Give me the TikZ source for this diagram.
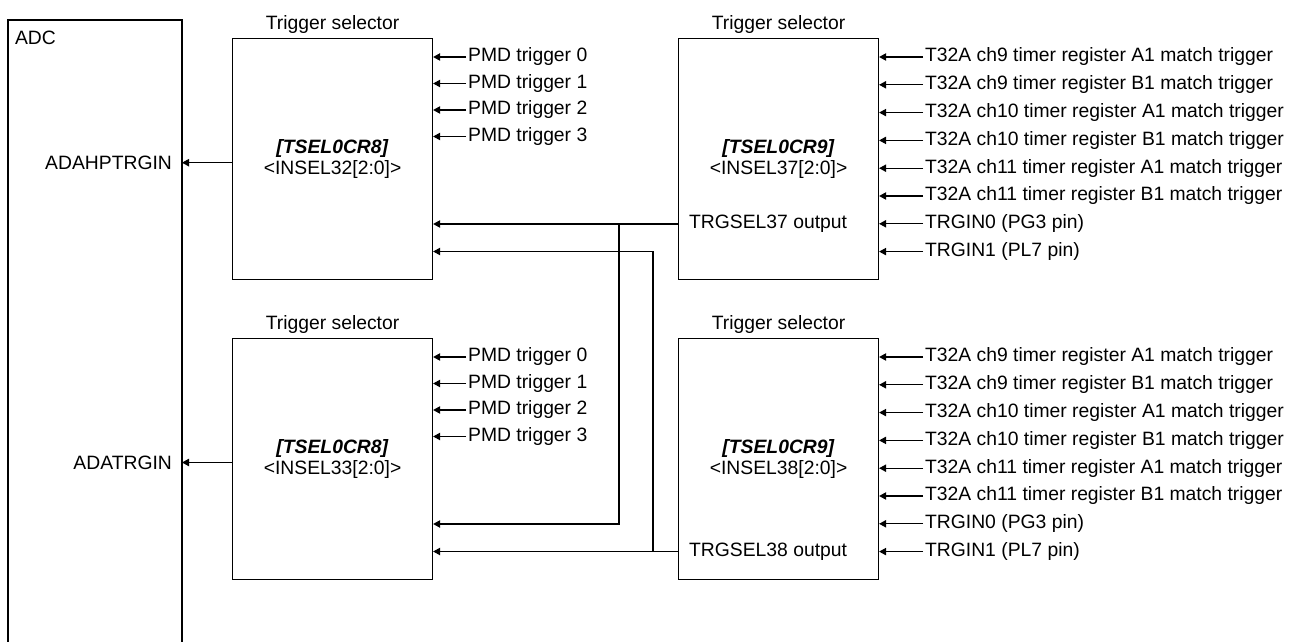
\documentclass[tikz,border=0pt]{standalone}
\usepackage{fontspec}
\setmainfont{Liberation Sans}
\usetikzlibrary{arrows.meta,positioning,calc}

\begin{document}
\begin{tikzpicture}[x=0.02cm, y=-0.02cm,
        font=\fontsize{11}{12.2}\selectfont,
        selbox/.style={rectangle, draw=black, line width=0.65pt, minimum width=4cm, minimum height=4.82cm, align=center, anchor=north west},
        title/.style={inner sep=2pt},
        lbl/.style={inner sep=1pt, anchor=west},
        sig/.style={-{Triangle[length=4pt,width=4.2pt]}, line width=0.65pt}
    ]
        \useasboundingbox (0,0) rectangle (1296,642);

        \coordinate (adcR) at (182,20);
        \draw[line width=0.65pt] (182,642) -- (adcR) -- (8,20) -- (8,642);
        \node[lbl] (adc) at (13,38) {ADC};
        \node[lbl, anchor=east] (hptrg) at (174,162.7) {ADAHPTRGIN};
        \node[lbl, anchor=east] (atrg) at (174,462.5) {ADATRGIN};

        \node[selbox] (tselA) at (232,38) {\textbf{\textit{[TSEL0CR8]}}\\<INSEL32[2:0]>};
        \node[selbox] (tselB) at (232,338) {\textbf{\textit{[TSEL0CR8]}}\\<INSEL33[2:0]>};
        \node[selbox] (tselC) at (678,38) {\textbf{\textit{[TSEL0CR9]}}\\<INSEL37[2:0]>};
        \node[selbox] (tselD) at (678,338) {\textbf{\textit{[TSEL0CR9]}}\\<INSEL38[2:0]>};

        \foreach \x in {tselA,tselB,tselC,tselD} {
            \node[title, above=0.5pt of \x] {Trigger selector};
        }

        \draw[sig] (tselA.west |- hptrg) -- (hptrg -| adcR);
        \draw[sig] (tselB.west |- atrg) -- (atrg -| adcR);

        \foreach \k in {0,...,3} {
            \node[lbl] (pmdA\k) at (466,57+26.5*\k) {PMD trigger \k};
            \draw[sig] (pmdA\k) -- (pmdA\k -| tselA.east);
            \node[lbl] (pmdB\k) at (466,357+26.5*\k) {PMD trigger \k};
            \draw[sig] (pmdB\k) -- (pmdB\k -| tselB.east);
        }

        \foreach \txt [count=\k from 0] in {T32A ch9 timer register A1 match trigger, T32A ch9 timer register B1 match trigger, T32A ch10 timer register A1 match trigger, T32A ch10 timer register B1 match trigger, T32A ch11 timer register A1 match trigger, T32A ch11 timer register B1 match trigger, TRGIN0 (PG3 pin), TRGIN1 (PL7 pin)} {
            \node[lbl] (trgC\k) at (923,57+27.8*\k) {\txt};
            \draw[sig] (trgC\k) -- (trgC\k -| tselC.east);
            \node[lbl] (trgD\k) at (923,357+27.8*\k) {\txt};
            \draw[sig] (trgD\k) -- (trgD\k -| tselD.east);
        }

        \node[lbl] (outC) at (687,224) {TRGSEL37 output};
        \node[lbl] (outD) at (687,551.5) {TRGSEL38 output};

        \coordinate (tapC) at (619,224);
        \coordinate (dropC) at (619,524);
        \coordinate (tapD) at (653,551.5);
        \coordinate (riseD) at (653,251.5);

        \draw[sig] (outC -| tselC.west) -- (outC -| tselA.east);
        \draw[sig] (tapC) -- (dropC) -- (dropC -| tselB.east);
        \draw[sig] (outD -| tselD.west) -- (outD -| tselB.east);
        \draw[sig] (tapD) -- (riseD) -- (riseD -| tselA.east);
    \end{tikzpicture}
\end{document}
